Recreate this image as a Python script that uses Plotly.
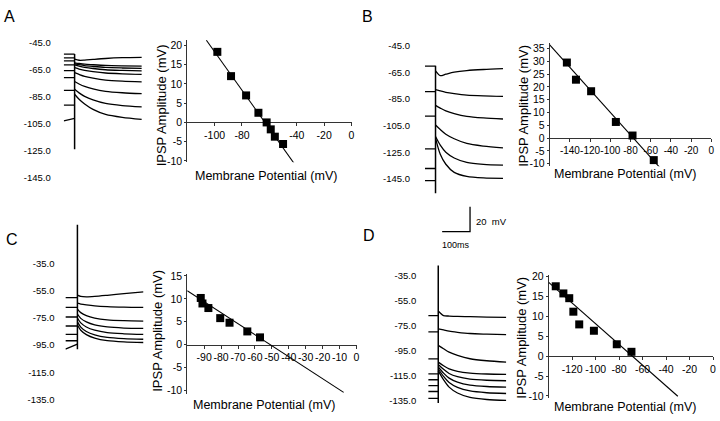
import plotly.graph_objects as go

W, H = 720, 421
FONT = "Liberation Sans, Arial, sans-serif"

# ---------------- data ----------------
# voltage-trace sample times (ms) after the stimulus
DECAY_T = [55, 75, 105, 150, 210, 280]

# Panel A traces (mV)
A_STIM_T = 39
A_STUB_START = [-53.7, -56.6, -58.8, -61.7, -66.0, -71.1, -80.5, -91.4, -103.0]
A_STUB_END = [-53.7, -56.6, -58.8, -61.7, -66.0, -71.1, -80.5, -91.4, -101.3]
A_DECAY = [
    [-57.5, -58.3, -58.2, -57.7, -57.0, -56.4, -56.1],
    [-60.2, -60.7, -61.2, -61.6, -62.1, -62.4, -62.6],
    [-60.9, -61.6, -62.3, -62.9, -63.6, -64.0, -64.3],
    [-61.7, -62.6, -63.5, -64.4, -65.3, -65.8, -66.2],
    [-63.8, -64.8, -65.8, -66.7, -67.7, -68.3, -68.7],
    [-67.5, -68.8, -70.2, -71.5, -72.9, -73.7, -74.2],
    [-74.0, -75.8, -77.6, -79.4, -81.2, -82.3, -83.0],
    [-79.8, -82.4, -85.0, -87.6, -90.2, -91.8, -92.8],
    [-83.4, -87.1, -90.6, -94.6, -98.3, -100.5, -102.0],
]
A_STIM_V = [-53.7, -124.0]
A_LABELS = [-45, -65, -85, -105, -125, -145]

# Panel B traces (mV)
B_STIM_T = 38
B_STUB_START = [-60.4, -79.6, -97.9, -122.5, -137.2, -146.3]
B_STUB_END = [-60.4, -79.6, -97.9, -122.5, -137.2, -146.3]
B_DECAY = [
    [-64.0, -67.6, -66.5, -65.0, -63.8, -63.0, -62.4],
    [-78.1, -79.1, -80.1, -81.1, -82.2, -82.8, -83.2],
    [-89.9, -91.9, -94.0, -96.0, -98.1, -99.3, -100.1],
    [-104.6, -108.0, -111.5, -114.9, -118.4, -120.4, -121.8],
    [-113.2, -119.7, -125.0, -129.3, -132.6, -134.1, -134.7],
    [-114.4, -126.5, -134.0, -140.1, -143.1, -144.3, -144.6],
]
B_STIM_V = [-60.2, -155.8]
B_LABELS = [-45, -65, -85, -105, -125, -145]

# Panel C traces (mV)
C_STIM_T = 43
C_STUB_START = [-60.2, -67.4, -74.4, -81.0, -87.1, -91.8, -97.9]
C_STUB_END = [-60.2, -67.4, -74.4, -81.0, -87.1, -91.8, -94.3]
C_DECAY = [
    [-58.3, -59.3, -59.6, -59.3, -58.5, -57.3, -55.9],
    [-64.3, -64.9, -65.5, -66.2, -66.8, -67.2, -67.4],
    [-68.6, -71.2, -73.4, -75.2, -76.5, -77.1, -77.4],
    [-72.2, -75.4, -78.0, -80.2, -81.7, -82.5, -82.8],
    [-75.1, -78.7, -81.7, -84.1, -85.9, -86.7, -87.1],
    [-78.0, -81.8, -85.0, -87.5, -89.4, -90.3, -90.7],
    [-80.3, -84.1, -87.3, -89.9, -91.8, -92.7, -93.1],
]
C_STIM_V = [-6.7, -98.1]
C_LABELS = [-35, -55, -75, -95, -115, -135]

# Panel D traces (mV)
D_STIM_T = 36
D_STUB_START = [-67.1, -80.2, -101.8, -113.8, -118.5, -123.2, -127.9, -133.4]
D_STUB_END = [-67.1, -80.2, -101.8, -113.8, -118.5, -123.2, -127.9, -133.4]
D_DECAY = [
    [-63.5, -67.2, -67.5, -67.8, -68.0, -68.3, -68.5],
    [-77.7, -78.6, -79.6, -80.5, -81.5, -82.0, -82.4],
    [-91.0, -93.7, -96.4, -99.0, -101.7, -103.3, -104.4],
    [-104.4, -107.3, -109.8, -111.8, -113.2, -113.9, -114.2],
    [-106.3, -110.2, -113.5, -116.1, -118.0, -118.9, -119.3],
    [-108.3, -113.2, -117.2, -120.4, -122.8, -123.9, -124.4],
    [-109.9, -115.8, -120.7, -124.6, -127.5, -128.9, -129.5],
    [-111.4, -118.5, -124.4, -129.1, -132.6, -134.3, -135.0],
]
D_STIM_V = [-27.1, -137.1]
D_LABELS = [-35, -55, -75, -95, -115, -135]

# scale bar (drawn in panel D trace coordinates): 100 ms, 20 mV
SCALE_T = [50, 150, 150]
SCALE_V = [0, 0, 20]

# I-V data: membrane potential (mV) vs IPSP amplitude (mV)
A_VM = [-98, -88, -77, -68, -62, -59, -56, -50]
A_AMP = [18.3, 12.0, 7.0, 2.5, 0.0, -1.8, -3.7, -5.6]
A_FIT_X = [-106, -42]
A_FIT_Y = [21.3, -10.6]
A_XT = [-100, -80, -40, -20, 0]
A_YT = [-10, -5, 0, 5, 10, 15, 20]

B_VM = [-143, -134, -119, -94.5, -78, -57]
B_AMP = [29.5, 22.8, 18.3, 6.3, 1.0, -8.6]
B_FIT_X = [-160, -51]
B_FIT_Y = [36.4, -11.5]
B_XT = [-140, -120, -100, -80, -60, -40, -20, 0]
B_YT = [-10, -5, 0, 5, 10, 15, 20, 25, 30, 35]

C_VM = [-92, -91, -87.5, -80.5, -75, -64.5, -57]
C_AMP = [10.2, 9.0, 8.0, 5.8, 4.8, 2.9, 1.6]
C_FIT_X = [-100, -7.6]
C_FIT_Y = [11.8, -10.4]
C_XT = [-90, -80, -70, -60, -50, -40, -30, -20, -10, 0]
C_YT = [-10, -5, 0, 5, 10, 15]

D_VM = [-134, -127.5, -122.5, -119, -114, -101.5, -82, -69.5]
D_AMP = [17.6, 15.8, 14.6, 11.2, 8.0, 6.4, 3.0, 1.1]
D_FIT_X = [-140, -30]
D_FIT_Y = [18.6, -10.1]
D_XT = [-120, -100, -80, -60, -40, -20, 0]
D_YT = [-10, -5, 0, 5, 10, 15, 20]

# ---------------- layout helpers ----------------
def dom_x(l, r):
    return [l / W, r / W]


def dom_y(t, b):
    return [1 - b / H, 1 - t / H]


fig = go.Figure()
layout = dict(
    width=W, height=H, margin=dict(l=0, r=0, t=0, b=0),
    paper_bgcolor="white", plot_bgcolor="white", showlegend=False,
    font=dict(family=FONT, color="black"),
)
annotations = []


def add_trace_panel(n, box, yrange, stim_t, s0, s1, decay, stim_v, labels, standoff):
    xs, ys = [], []
    for a, b in zip(s0, s1):
        xs += [0, stim_t, None]
        ys += [a, b, None]
    fig.add_trace(go.Scatter(x=xs, y=ys, mode="lines", xaxis=f"x{n}", yaxis=f"y{n}",
                             line=dict(color="black", width=1.3), hoverinfo="skip"))
    xs, ys = [], []
    for d in decay:
        xs += [stim_t] + DECAY_T + [None]
        ys += d + [None]
    fig.add_trace(go.Scatter(x=xs, y=ys, mode="lines", xaxis=f"x{n}", yaxis=f"y{n}",
                             line=dict(color="black", width=1.3, shape="spline", smoothing=0.8),
                             hoverinfo="skip"))
    fig.add_trace(go.Scatter(x=[stim_t, stim_t], y=stim_v, mode="lines", xaxis=f"x{n}", yaxis=f"y{n}",
                             line=dict(color="black", width=1.5), hoverinfo="skip"))
    l, t, r, b = box
    layout[f"xaxis{n}"] = dict(domain=dom_x(l, r), range=[0, 280], visible=False,
                               anchor=f"y{n}", fixedrange=True)
    layout[f"yaxis{n}"] = dict(domain=dom_y(t, b), range=yrange, anchor=f"x{n}",
                               tickvals=labels, ticktext=[f"{v:.1f}" for v in labels],
                               showline=False, showgrid=False, zeroline=False, ticks="",
                               tickfont=dict(size=9.5, family=FONT, color="black"),
                               ticklabelstandoff=standoff, ticklabeloverflow="allow",
                               fixedrange=True)


def add_iv_panel(n, box, xrange, yrange, vm, amp, fx, fy, xt, yt, xfs=10.5):
    fig.add_trace(go.Scatter(x=fx, y=fy, mode="lines", xaxis=f"x{n}", yaxis=f"y{n}",
                             line=dict(color="black", width=1.1), hoverinfo="skip"))
    fig.add_trace(go.Scatter(x=vm, y=amp, mode="markers", xaxis=f"x{n}", yaxis=f"y{n}",
                             marker=dict(symbol="square", size=8, color="black"),
                             cliponaxis=False, hoverinfo="skip"))
    l, t, r, b = box
    dy = dom_y(t, b)
    pos = dy[0] + (0 - yrange[0]) / (yrange[1] - yrange[0]) * (dy[1] - dy[0])
    tf = dict(size=10.5, family=FONT, color="black")
    layout[f"xaxis{n}"] = dict(domain=dom_x(l, r), range=xrange, anchor="free", position=pos,
                               showline=True, linecolor="#333", linewidth=1,
                               ticks="outside", ticklen=3, tickcolor="#333",
                               tickvals=xt, ticktext=[f"{v:g}" for v in xt],
                               tickfont=dict(size=xfs, family=FONT, color="black"),
                               tickangle=0, ticklabeloverflow="allow",
                               showgrid=False, zeroline=False, layer="below traces",
                               fixedrange=True)
    layout[f"yaxis{n}"] = dict(domain=dy, range=yrange, anchor=f"x{n}",
                               showline=True, linecolor="#333", linewidth=1,
                               ticks="outside", ticklen=2, tickcolor="#333",
                               tickvals=yt, ticktext=[f"{v:g}" for v in yt], tickfont=tf,
                               tickangle=0, ticklabeloverflow="allow",
                               showgrid=False, zeroline=False, layer="below traces",
                               fixedrange=True)


# panel A
add_trace_panel(1, (64, 32.1, 142.4, 183.9), [-150, -40], A_STIM_T, A_STUB_START, A_STUB_END,
                A_DECAY, A_STIM_V, A_LABELS, 12)
add_iv_panel(2, (188, 36.2, 353, 161.2), [-120, 0], [-10.3, 21.5], A_VM, A_AMP,
             A_FIT_X, A_FIT_Y, A_XT, A_YT)
# panel B
add_trace_panel(3, (426.7, 35.5, 505.1, 198.7), [-160, -40], B_STIM_T, B_STUB_START, B_STUB_END,
                B_DECAY, B_STIM_V, B_LABELS, 14)
add_iv_panel(4, (552, 40.1, 714.3, 165.4), [-160, 0], [-11, 37], B_VM, B_AMP,
             B_FIT_X, B_FIT_Y, B_XT, B_YT, xfs=10)
# panel C
add_trace_panel(5, (65.7, 222.6, 144.1, 410.25), [-140, -5], C_STIM_T, C_STUB_START, C_STUB_END,
                C_DECAY, C_STIM_V, C_LABELS, 10)
add_iv_panel(6, (188, 274.9, 358, 397.3), [-100, 0], [-10.7, 15.5], C_VM, C_AMP,
             C_FIT_X, C_FIT_Y, C_XT, C_YT)
# panel D
add_trace_panel(7, (430, 204.1, 508.4, 410.4), [-140, 22], D_STIM_T, D_STUB_START, D_STUB_END,
                D_DECAY, D_STIM_V, D_LABELS, 11)
add_iv_panel(8, (551, 276, 716, 401.5), [-140, 0], [-10.5, 20.5], D_VM, D_AMP,
             D_FIT_X, D_FIT_Y, D_XT, D_YT)

# scale bar
fig.add_trace(go.Scatter(x=SCALE_T, y=SCALE_V, mode="lines", xaxis="x7", yaxis="y7",
                         line=dict(color="black", width=1.3), hoverinfo="skip", cliponaxis=False))
annotations.append(dict(x=SCALE_T[2] + 16, y=SCALE_V[2] * 0.42, xref="x7", yref="y7",
                        text="20  mV", showarrow=False, xanchor="left", yanchor="middle",
                        font=dict(size=9.5, family=FONT)))
annotations.append(dict(x=(SCALE_T[0] + SCALE_T[1]) / 2, y=SCALE_V[0] - 11, xref="x7", yref="y7",
                        text="100ms", showarrow=False, xanchor="center", yanchor="middle",
                        font=dict(size=9, family=FONT)))


def pap(x, y):
    return x / W, 1 - y / H


for letter, (px, py) in zip("ABCD", [(10, 12.8), (369, 12.5), (12.5, 239.7), (371, 236.3)]):
    x, y = pap(px, py)
    annotations.append(dict(x=x, y=y, xref="paper", yref="paper", text=letter, showarrow=False,
                            xanchor="center", yanchor="middle",
                            font=dict(size=16, family=FONT)))

for (px, py) in [(162, 103), (525, 104), (158.3, 333.5), (523.3, 340)]:
    x, y = pap(px, py)
    annotations.append(dict(x=x, y=y, xref="paper", yref="paper", text="IPSP Amplitude (mV)",
                            textangle=-90, showarrow=False, xanchor="center", yanchor="middle",
                            font=dict(size=13, family=FONT)))

for (px, py) in [(266.7, 175), (627.5, 173.3), (265, 409), (628, 410.5)]:
    x, y = pap(px, py)
    annotations.append(dict(x=x, y=y, xref="paper", yref="paper", text="Membrane Potential (mV)",
                            showarrow=False, xanchor="center", yanchor="middle",
                            font=dict(size=12.5, family=FONT)))

layout["annotations"] = annotations
fig.update_layout(**layout)
fig.write_html("out.html", config={"displayModeBar": False},
               post_script="document.body.style.margin='0';document.body.style.overflow='hidden';")
